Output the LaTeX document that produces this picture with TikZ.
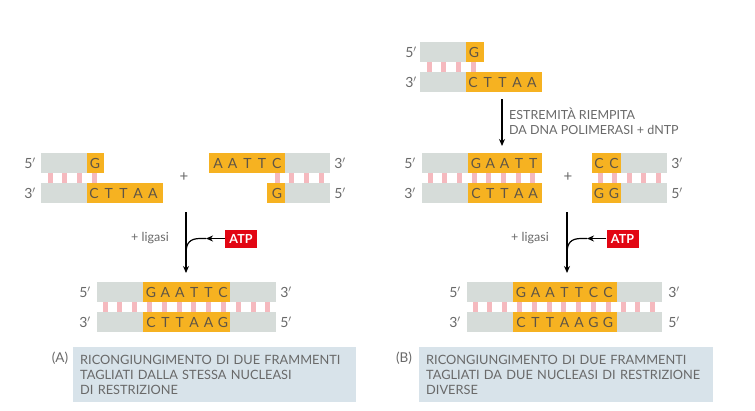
\documentclass[tikz,border=0pt]{standalone}
\usepackage{fontspec}
\setmainfont{Lato}
\setsansfont{Lato}
\usetikzlibrary{arrows.meta}
\definecolor{strandgrey}{RGB}{214,220,217}
\definecolor{baseorange}{RGB}{246,178,33}
\definecolor{rungpink}{RGB}{245,185,190}
\definecolor{atpred}{RGB}{226,6,19}
\definecolor{capblue}{RGB}{216,227,234}
\definecolor{txtgrey}{RGB}{105,105,105}
\definecolor{basetxt}{RGB}{95,85,70}
\tikzset{
  gseg/.style={rectangle, fill=strandgrey, inner sep=0pt, anchor=north west},
  oseg/.style={rectangle, fill=baseorange, inner sep=0pt, anchor=north west},
  base/.style={inner sep=0pt, font=\fontsize{14}{14}\selectfont, text=basetxt},
  endlab/.style={inner sep=0pt, font=\fontsize{14}{14}\selectfont, text=txtgrey},
  plus/.style={inner sep=0pt, font=\fontsize{15}{15}\selectfont, text=txtgrey},
  atpbox/.style={rectangle, fill=atpred, text=white, inner sep=0pt, minimum width=32pt, minimum height=18pt, font=\fontsize{12.5}{12.5}\selectfont\bfseries},
  steparrow/.style={line width=1.2pt, -{Stealth[length=7pt,width=6pt]}},
  feedline/.style={line width=1.2pt},
  note/.style={inner sep=0pt, font=\fontsize{12.5}{15}\selectfont, text=txtgrey, align=left},
  capbox/.style={rectangle, fill=capblue, anchor=north west, inner xsep=7pt, inner ysep=5pt, align=left, font=\fontsize{12.8}{15}\selectfont, text=txtgrey},
  tag/.style={inner sep=0pt, font=\fontsize{13.5}{13.5}\selectfont, text=txtgrey},
}
\newcommand{\rungs}[4]{% start x, step, count-1, top y
  \foreach \k in {0,...,#3} {\fill[rungpink] ({#1+#2*\k-2.5},{#4}) rectangle ++(5,10);}}
\begin{document}
\begin{tikzpicture}[x=1pt,y=-1pt]
\useasboundingbox (0,0) rectangle (755,410);
\fill[white] (0,0) rectangle (755,410);

% ================= PANEL A =================
% top-left fragment
\rungs{50}{14.8}{3}{173}
\node[gseg, minimum width=46pt, minimum height=20pt] (a1g) at (41,153) {};
\node[oseg, minimum width=17pt, minimum height=20pt] (a1o) at (87,153) {};
\node[gseg, minimum width=46pt, minimum height=20pt] (a2g) at (41,183) {};
\node[oseg, minimum width=76pt, minimum height=20pt] (a2o) at (87,183) {};
\node[base] at (95,163) {G};
\foreach \c [count=\i from 0] in {C,T,T,A,A} \node[base] at (94+14.7*\i,193) {\c};
\node[endlab] at (30,163) {5$'$};
\node[endlab] at (30,193) {3$'$};
\node[plus] (aplus) at (184,177) {+};
% top-right fragment
\rungs{277}{14.9}{3}{173}
\node[oseg, minimum width=76pt, minimum height=20pt] (a3o) at (209,153) {};
\node[gseg, minimum width=45pt, minimum height=20pt] (a3g) at (285,153) {};
\node[oseg, minimum width=18pt, minimum height=20pt] (a4o) at (267,183) {};
\node[gseg, minimum width=45pt, minimum height=20pt] (a4g) at (285,183) {};
\foreach \c [count=\i from 0] in {A,A,T,T,C} \node[base] at (218+14.7*\i,163) {\c};
\node[base] at (277,193) {G};
\node[endlab] at (340,163) {3$'$};
\node[endlab] at (340,193) {5$'$};
% arrow A
\coordinate (aA1) at (186,212);
\coordinate (aA2) at (186,273);
\draw[steparrow] (aA1) -- (aA2);
\node[note] at (150,238) {+ ligasi};
\node[atpbox] (atpA) at (241,238.5) {ATP};
\coordinate (atpAtip) at (206,238.5);
\coordinate (atpAj) at (186,253);
\draw[feedline, -{Stealth[length=7pt,width=6pt]}] (atpA.west) -- (atpAtip);
\draw[feedline] (atpAtip) -- (200,238.5) .. controls (190,238.5) and (186,243) .. (atpAj);
% bottom product A
\rungs{105}{14.8}{11}{302}
\node[gseg, minimum width=46pt, minimum height=20pt] (a5g) at (97,282) {};
\node[oseg, minimum width=87pt, minimum height=20pt] (a5o) at (143,282) {};
\node[gseg, minimum width=46pt, minimum height=20pt] (a5h) at (230,282) {};
\node[gseg, minimum width=46pt, minimum height=20pt] (a6g) at (97,312) {};
\node[oseg, minimum width=87pt, minimum height=20pt] (a6o) at (143,312) {};
\node[gseg, minimum width=46pt, minimum height=20pt] (a6h) at (230,312) {};
\foreach \c [count=\i from 0] in {G,A,A,T,T,C} \node[base] at (151+14.4*\i,292) {\c};
\foreach \c [count=\i from 0] in {C,T,T,A,A,G} \node[base] at (151+14.4*\i,322) {\c};
\node[endlab] at (85,292) {5$'$};
\node[endlab] at (85,322) {3$'$};
\node[endlab] at (286,292) {3$'$};
\node[endlab] at (286,322) {5$'$};
% caption A
\node[tag] (tagA) at (60,358) {(A)};
\node[capbox, text width=269pt, minimum height=55pt] (capA) at (73,347) {RICONGIUNGIMENTO DI DUE FRAMMENTI\\TAGLIATI DALLA STESSA NUCLEASI\\DI RESTRIZIONE};

% ================= PANEL B =================
% top fragment
\rungs{429}{14.7}{3}{62}
\node[gseg, minimum width=46pt, minimum height=20pt] (b1g) at (420,42) {};
\node[oseg, minimum width=18pt, minimum height=20pt] (b1o) at (466,42) {};
\node[gseg, minimum width=46pt, minimum height=20pt] (b2g) at (420,72) {};
\node[oseg, minimum width=76pt, minimum height=20pt] (b2o) at (466,72) {};
\node[base] at (474,52) {G};
\foreach \c [count=\i from 0] in {C,T,T,A,A} \node[base] at (473+14.7*\i,82) {\c};
\node[endlab] at (411,52) {5$'$};
\node[endlab] at (411,82) {3$'$};
% arrow fill-in
\coordinate (bF1) at (502,99);
\coordinate (bF2) at (502,146);
\draw[steparrow] (bF1) -- (bF2);
\node[note, anchor=west] at (509,121) {ESTREMITÀ RIEMPITA\\DA DNA POLIMERASI + dNTP};
% middle left fragment
\rungs{430}{14.7}{7}{173}
\node[gseg, minimum width=46pt, minimum height=20pt] (b3g) at (422,153) {};
\node[oseg, minimum width=74pt, minimum height=20pt] (b3o) at (468,153) {};
\node[gseg, minimum width=46pt, minimum height=20pt] (b4g) at (422,183) {};
\node[oseg, minimum width=74pt, minimum height=20pt] (b4o) at (468,183) {};
\foreach \c [count=\i from 0] in {G,A,A,T,T} \node[base] at (476+14.3*\i,163) {\c};
\foreach \c [count=\i from 0] in {C,T,T,A,A} \node[base] at (476+14.3*\i,193) {\c};
\node[endlab] at (410,163) {5$'$};
\node[endlab] at (410,193) {3$'$};
\node[plus] (bplus) at (568,177) {+};
% middle right fragment
\rungs{600}{14.5}{4}{173}
\node[oseg, minimum width=29pt, minimum height=20pt] (b5o) at (592,153) {};
\node[gseg, minimum width=46pt, minimum height=20pt] (b5g) at (621,153) {};
\node[oseg, minimum width=29pt, minimum height=20pt] (b6o) at (592,183) {};
\node[gseg, minimum width=46pt, minimum height=20pt] (b6g) at (621,183) {};
\foreach \c [count=\i from 0] in {C,C} \node[base] at (599+15*\i,163) {\c};
\foreach \c [count=\i from 0] in {G,G} \node[base] at (599+15*\i,193) {\c};
\node[endlab] at (677,163) {3$'$};
\node[endlab] at (677,193) {5$'$};
% arrow B
\coordinate (bA1) at (567,212);
\coordinate (bA2) at (567,273);
\draw[steparrow] (bA1) -- (bA2);
\node[note] at (530,238) {+ ligasi};
\node[atpbox] (atpB) at (622.5,238.5) {ATP};
\coordinate (atpBtip) at (587,238.5);
\coordinate (atpBj) at (567,253);
\draw[feedline, -{Stealth[length=7pt,width=6pt]}] (atpB.west) -- (atpBtip);
\draw[feedline] (atpBtip) -- (581,238.5) .. controls (571,238.5) and (567,243) .. (atpBj);
% bottom product B
\rungs{475}{14.8}{12}{302}
\node[gseg, minimum width=46pt, minimum height=20pt] (b7g) at (467,282) {};
\node[oseg, minimum width=104pt, minimum height=20pt] (b7o) at (513,282) {};
\node[gseg, minimum width=45pt, minimum height=20pt] (b7h) at (617,282) {};
\node[gseg, minimum width=46pt, minimum height=20pt] (b8g) at (467,312) {};
\node[oseg, minimum width=104pt, minimum height=20pt] (b8o) at (513,312) {};
\node[gseg, minimum width=45pt, minimum height=20pt] (b8h) at (617,312) {};
\foreach \c [count=\i from 0] in {G,A,A,T,T,C,C} \node[base] at (521+14.5*\i,292) {\c};
\foreach \c [count=\i from 0] in {C,T,T,A,A,G,G} \node[base] at (521+14.5*\i,322) {\c};
\node[endlab] at (455,292) {5$'$};
\node[endlab] at (455,322) {3$'$};
\node[endlab] at (674,292) {3$'$};
\node[endlab] at (674,322) {5$'$};
% caption B
\node[tag] (tagB) at (404,358) {(B)};
\node[capbox, text width=280pt, minimum height=55pt] (capB) at (419,347) {RICONGIUNGIMENTO DI DUE FRAMMENTI\\TAGLIATI DA DUE NUCLEASI DI RESTRIZIONE\\DIVERSE};
\end{tikzpicture}
\end{document}
